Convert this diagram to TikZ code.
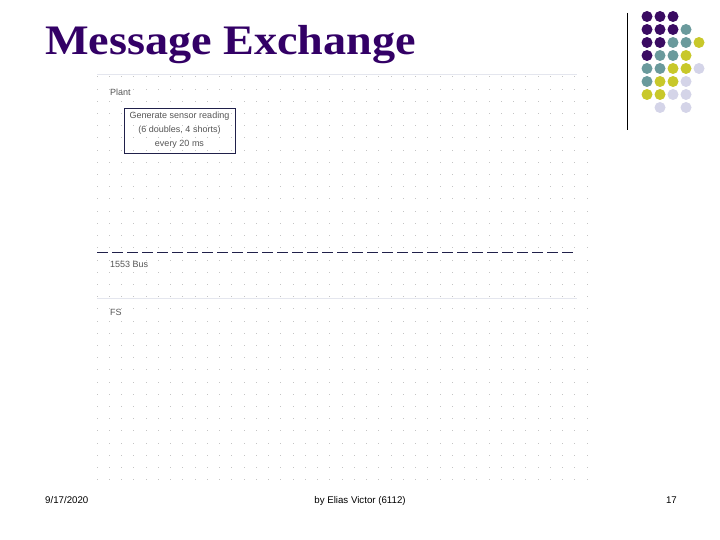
\documentclass[tikz,border=0pt]{standalone}
\usepackage{fontspec}
\setmainfont{Liberation Serif}
\setsansfont{Liberation Sans}
\definecolor{titlepurple}{HTML}{330066}
\definecolor{dpurple}{HTML}{3A0B62}
\definecolor{dteal}{HTML}{6A9A9C}
\definecolor{dyellow}{HTML}{C8C82A}
\definecolor{dlav}{HTML}{D4D4E8}
\definecolor{gridgray}{HTML}{C4C4C4}
\definecolor{faintline}{HTML}{E4E6EE}
\definecolor{boxline}{HTML}{20204A}
\definecolor{diagtext}{HTML}{555555}
\tikzset{
  small/.style={font=\sffamily\fontsize{9}{11}\selectfont, text=diagtext, inner sep=0},
  foot/.style={font=\sffamily\fontsize{9.7}{11}\selectfont, text=black, inner sep=0, anchor=base},
  pdot/.style={radius=5.5}
}
\begin{document}
\begin{tikzpicture}[x=1pt,y=-1pt]
\useasboundingbox[fill=white] (0,0) rectangle (720,540);
% faint dot grid
\foreach \i in {0,...,40}{
  \foreach \j in {0,...,33}{
    \fill[gridgray] ({96.5+\i*12.25},{76.5+\j*12.2}) rectangle ++(1,1);
  }
}
% faint lanes
\draw[faintline, line width=1] (97,75) -- (577,75);
\draw[faintline, line width=1] (97,298) -- (577,298);
% title
\node[anchor=base west, font=\fontsize{42}{50}\selectfont\bfseries, text=titlepurple, inner sep=0, xscale=1.1] (title) at (45,55) {Message Exchange};
% vertical rule
\coordinate (rtop) at (627,13);
\coordinate (rbot) at (627,130);
\draw[black, line width=0.9] (rtop) -- (rbot);
% palette dots
\foreach \c/\r/\col in {0/0/dpurple,1/0/dpurple,2/0/dpurple,
  0/1/dpurple,1/1/dpurple,2/1/dpurple,3/1/dteal,
  0/2/dpurple,1/2/dpurple,2/2/dteal,3/2/dteal,4/2/dyellow,
  0/3/dpurple,1/3/dteal,2/3/dteal,3/3/dyellow,
  0/4/dteal,1/4/dteal,2/4/dyellow,3/4/dyellow,4/4/dlav,
  0/5/dteal,1/5/dyellow,2/5/dyellow,3/5/dlav,
  0/6/dyellow,1/6/dyellow,2/6/dlav,3/6/dlav,
  1/7/dlav,3/7/dlav}{
  \fill[\col] ({647+13*\c},{16.5+13*\r}) circle[pdot];
}
% diagram
\node[small, anchor=base west] (plant) at (110,96) {Plant};
\node[draw=boxline, line width=0.8, minimum width=111, minimum height=45, inner sep=0,
      font=\sffamily\fontsize{9}{14}\selectfont, text=diagtext, align=center] (gen) at (179.5,130.5)
      {Generate sensor reading\\(6 doubles, 4 shorts)\\every 20 ms};
\coordinate (busL) at (97,252.5);
\coordinate (busR) at (575,252.5);
\draw[boxline, line width=1.5, dash pattern=on 11 off 4] (busL) -- (busR);
\node[small, anchor=base west] (bus) at (110,267.5) {1553 Bus};
\node[small, anchor=base west] (fs) at (110,315.5) {FS};
% footer
\node[foot, anchor=base west] (date) at (45,503.5) {9/17/2020};
\node[foot] (author) at (360,503.5) {by Elias Victor (6112)};
\node[foot, anchor=base east] (page) at (677,503.5) {17};
\end{tikzpicture}
\end{document}
